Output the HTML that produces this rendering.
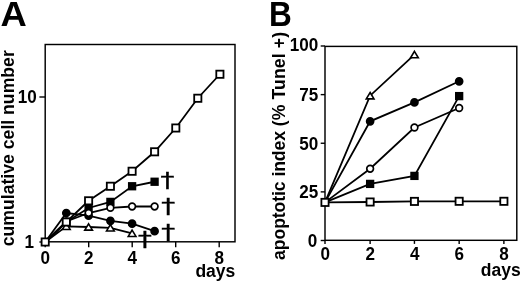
<!DOCTYPE html>
<html lang="en"><head><meta charset="utf-8"><title>Figure</title>
<style>
html,body{margin:0;padding:0;background:#fff;}
body{width:520px;height:281px;overflow:hidden;position:relative;font-family:"Liberation Sans",sans-serif;}
</style></head><body>
<svg width="520" height="281" viewBox="0 0 520 281" style="position:absolute;left:0;top:0">
<g font-family="&quot;Liberation Sans&quot;, sans-serif" font-weight="bold" fill="#000">
<rect x="45.2" y="44.5" width="189.8" height="197.3" fill="none" stroke="#000" stroke-width="1.45"/>
<line x1="45.20" y1="241.8" x2="45.20" y2="247.3" stroke="#000" stroke-width="1.4"/>
<text transform="translate(45.20 263.50) scale(0.96 1)" font-size="17.8" text-anchor="middle">0</text>
<line x1="88.70" y1="241.8" x2="88.70" y2="247.3" stroke="#000" stroke-width="1.4"/>
<text transform="translate(88.70 263.50) scale(0.96 1)" font-size="17.8" text-anchor="middle">2</text>
<line x1="132.20" y1="241.8" x2="132.20" y2="247.3" stroke="#000" stroke-width="1.4"/>
<text transform="translate(132.20 263.50) scale(0.96 1)" font-size="17.8" text-anchor="middle">4</text>
<line x1="175.70" y1="241.8" x2="175.70" y2="247.3" stroke="#000" stroke-width="1.4"/>
<text transform="translate(175.70 263.50) scale(0.96 1)" font-size="17.8" text-anchor="middle">6</text>
<line x1="219.20" y1="241.8" x2="219.20" y2="247.3" stroke="#000" stroke-width="1.4"/>
<text transform="translate(219.20 263.50) scale(0.96 1)" font-size="17.8" text-anchor="middle">8</text>
<line x1="39.4" y1="242" x2="45.2" y2="242" stroke="#000" stroke-width="1.4"/>
<text transform="translate(34.00 248.10) scale(0.96 1)" font-size="17.8" text-anchor="end">1</text>
<line x1="39.4" y1="97" x2="45.2" y2="97" stroke="#000" stroke-width="1.4"/>
<text transform="translate(36.70 103.10) scale(0.96 1)" font-size="17.8" text-anchor="end">10</text>
<text x="0.6" y="26" font-size="34.8" textLength="26.3" lengthAdjust="spacingAndGlyphs">A</text>
<text x="195.4" y="276.6" font-size="17.5">days</text>
<text transform="translate(14.3 246.3) rotate(-90)" font-size="17.65">cumulative cell number</text>
<polyline fill="none" stroke="#000" stroke-width="1.8" points="45.20,242.00 66.30,226.30 88.60,227.00 110.40,227.80 132.10,233.30"/>
<polyline fill="none" stroke="#000" stroke-width="1.8" points="45.20,242.00 66.30,213.00 88.60,215.70 110.40,220.80 132.10,223.70 154.60,231.20"/>
<polyline fill="none" stroke="#000" stroke-width="1.8" points="45.20,242.00 66.30,221.50 88.60,213.00 110.40,207.80 132.10,206.50 154.60,206.50"/>
<polyline fill="none" stroke="#000" stroke-width="1.8" points="45.20,242.00 66.30,222.00 88.60,208.00 110.40,201.90 132.10,186.25 154.60,181.75"/>
<polyline fill="none" stroke="#000" stroke-width="1.8" points="45.20,242.00 66.30,222.00 88.60,200.80 110.40,186.25 132.10,171.25 154.60,151.80 175.80,128.00 197.80,98.25 219.90,74.25"/>
<path d="M66.30 223.10 L70.15 229.45 L62.45 229.45Z" fill="#fff" stroke="#000" stroke-width="1.6" stroke-linejoin="miter"/>
<path d="M88.60 223.80 L92.45 230.15 L84.75 230.15Z" fill="#fff" stroke="#000" stroke-width="1.6" stroke-linejoin="miter"/>
<path d="M110.40 224.60 L114.25 230.95 L106.55 230.95Z" fill="#fff" stroke="#000" stroke-width="1.6" stroke-linejoin="miter"/>
<path d="M132.10 230.10 L135.95 236.45 L128.25 236.45Z" fill="#fff" stroke="#000" stroke-width="1.6" stroke-linejoin="miter"/>
<circle cx="66.30" cy="213.00" r="3.5" fill="#000" stroke="#000" stroke-width="1.7"/>
<circle cx="88.60" cy="215.70" r="3.5" fill="#000" stroke="#000" stroke-width="1.7"/>
<circle cx="110.40" cy="220.80" r="3.5" fill="#000" stroke="#000" stroke-width="1.7"/>
<circle cx="132.10" cy="223.70" r="3.5" fill="#000" stroke="#000" stroke-width="1.7"/>
<circle cx="154.60" cy="231.20" r="3.5" fill="#000" stroke="#000" stroke-width="1.7"/>
<rect x="63.05" y="218.75" width="6.5" height="6.5" fill="#000" stroke="#000" stroke-width="1.8"/>
<rect x="85.35" y="204.75" width="6.5" height="6.5" fill="#000" stroke="#000" stroke-width="1.8"/>
<rect x="107.15" y="198.65" width="6.5" height="6.5" fill="#000" stroke="#000" stroke-width="1.8"/>
<rect x="128.85" y="183.00" width="6.5" height="6.5" fill="#000" stroke="#000" stroke-width="1.8"/>
<rect x="151.35" y="178.50" width="6.5" height="6.5" fill="#000" stroke="#000" stroke-width="1.8"/>
<circle cx="66.30" cy="221.50" r="3.35" fill="#fff" stroke="#000" stroke-width="1.7"/>
<circle cx="88.60" cy="213.00" r="3.35" fill="#fff" stroke="#000" stroke-width="1.7"/>
<circle cx="110.40" cy="207.80" r="3.35" fill="#fff" stroke="#000" stroke-width="1.7"/>
<circle cx="132.10" cy="206.50" r="3.35" fill="#fff" stroke="#000" stroke-width="1.7"/>
<circle cx="154.60" cy="206.50" r="3.35" fill="#fff" stroke="#000" stroke-width="1.7"/>
<rect x="41.60" y="238.40" width="7.2" height="7.2" fill="#fff" stroke="#000" stroke-width="1.8"/>
<rect x="62.70" y="218.40" width="7.2" height="7.2" fill="#fff" stroke="#000" stroke-width="1.8"/>
<rect x="85.00" y="197.20" width="7.2" height="7.2" fill="#fff" stroke="#000" stroke-width="1.8"/>
<rect x="106.80" y="182.65" width="7.2" height="7.2" fill="#fff" stroke="#000" stroke-width="1.8"/>
<rect x="128.50" y="167.65" width="7.2" height="7.2" fill="#fff" stroke="#000" stroke-width="1.8"/>
<rect x="151.00" y="148.20" width="7.2" height="7.2" fill="#fff" stroke="#000" stroke-width="1.8"/>
<rect x="172.20" y="124.40" width="7.2" height="7.2" fill="#fff" stroke="#000" stroke-width="1.8"/>
<rect x="194.20" y="94.65" width="7.2" height="7.2" fill="#fff" stroke="#000" stroke-width="1.8"/>
<rect x="216.30" y="70.65" width="7.2" height="7.2" fill="#fff" stroke="#000" stroke-width="1.8"/>
<text transform="translate(167.4 188.48) scale(1.3 1)" font-family="&quot;DejaVu Sans&quot;, &quot;Liberation Sans&quot;, sans-serif" font-weight="normal" font-size="21.3" stroke="#000" stroke-width="0.35" text-anchor="middle">†</text>
<text transform="translate(168.2 214.18) scale(1.3 1)" font-family="&quot;DejaVu Sans&quot;, &quot;Liberation Sans&quot;, sans-serif" font-weight="normal" font-size="21.3" stroke="#000" stroke-width="0.35" text-anchor="middle">†</text>
<text transform="translate(168.1 239.98) scale(1.3 1)" font-family="&quot;DejaVu Sans&quot;, &quot;Liberation Sans&quot;, sans-serif" font-weight="normal" font-size="21.3" stroke="#000" stroke-width="0.35" text-anchor="middle">†</text>
<text transform="translate(144.9 247.08) scale(1.3 1)" font-family="&quot;DejaVu Sans&quot;, &quot;Liberation Sans&quot;, sans-serif" font-weight="normal" font-size="21.3" stroke="#000" stroke-width="0.35" text-anchor="middle">†</text>
<rect x="325" y="46.4" width="191.8" height="193.9" fill="none" stroke="#000" stroke-width="1.45"/>
<line x1="325.00" y1="240.3" x2="325.00" y2="243.9" stroke="#000" stroke-width="1.4"/>
<text transform="translate(325.20 260.10) scale(0.96 1)" font-size="17.8" text-anchor="middle">0</text>
<line x1="370.12" y1="240.3" x2="370.12" y2="243.9" stroke="#000" stroke-width="1.4"/>
<text transform="translate(370.32 260.10) scale(0.96 1)" font-size="17.8" text-anchor="middle">2</text>
<line x1="414.44" y1="240.3" x2="414.44" y2="243.9" stroke="#000" stroke-width="1.4"/>
<text transform="translate(414.64 260.10) scale(0.96 1)" font-size="17.8" text-anchor="middle">4</text>
<line x1="459.16" y1="240.3" x2="459.16" y2="243.9" stroke="#000" stroke-width="1.4"/>
<text transform="translate(459.36 260.10) scale(0.96 1)" font-size="17.8" text-anchor="middle">6</text>
<line x1="503.88" y1="240.3" x2="503.88" y2="243.9" stroke="#000" stroke-width="1.4"/>
<text transform="translate(504.08 260.10) scale(0.96 1)" font-size="17.8" text-anchor="middle">8</text>
<line x1="320.7" y1="240.50" x2="325" y2="240.50" stroke="#000" stroke-width="1.4"/>
<text transform="translate(317.30 246.80) scale(0.96 1)" font-size="17.8" text-anchor="end">0</text>
<line x1="320.7" y1="191.88" x2="325" y2="191.88" stroke="#000" stroke-width="1.4"/>
<text transform="translate(318.30 198.18) scale(0.96 1)" font-size="17.8" text-anchor="end">25</text>
<line x1="320.7" y1="143.25" x2="325" y2="143.25" stroke="#000" stroke-width="1.4"/>
<text transform="translate(318.30 149.55) scale(0.96 1)" font-size="17.8" text-anchor="end">50</text>
<line x1="320.7" y1="94.62" x2="325" y2="94.62" stroke="#000" stroke-width="1.4"/>
<text transform="translate(318.30 100.92) scale(0.96 1)" font-size="17.8" text-anchor="end">75</text>
<line x1="320.7" y1="46.00" x2="325" y2="46.00" stroke="#000" stroke-width="1.4"/>
<text transform="translate(318.30 51.00) scale(0.96 1)" font-size="17.8" text-anchor="end">100</text>
<text x="269" y="26" font-size="34.8" textLength="22.8" lengthAdjust="spacingAndGlyphs">B</text>
<text x="480.8" y="276.3" font-size="17.5">days</text>
<text transform="translate(285.3 259.9) rotate(-90)" font-size="17.65"><tspan letter-spacing="-0.1">apoptotic index </tspan><tspan letter-spacing="0.1">(% Tunel +)</tspan></text>
<polyline fill="none" stroke="#000" stroke-width="1.8" points="325.00,202.40 370.12,95.70 414.44,54.60"/>
<polyline fill="none" stroke="#000" stroke-width="1.8" points="325.00,202.40 370.12,121.30 414.44,102.40 459.16,81.30"/>
<polyline fill="none" stroke="#000" stroke-width="1.8" points="325.00,202.40 370.12,168.75 414.44,127.50 459.16,108.00"/>
<polyline fill="none" stroke="#000" stroke-width="1.8" points="325.00,202.40 370.12,183.90 414.44,175.90 459.16,96.10"/>
<polyline fill="none" stroke="#000" stroke-width="1.8" points="325.00,202.40 370.12,202.00 414.44,201.40 459.16,201.30 503.88,201.30"/>
<path d="M370.12 92.50 L373.97 98.85 L366.27 98.85Z" fill="#fff" stroke="#000" stroke-width="1.6" stroke-linejoin="miter"/>
<path d="M414.44 51.40 L418.29 57.75 L410.59 57.75Z" fill="#fff" stroke="#000" stroke-width="1.6" stroke-linejoin="miter"/>
<circle cx="370.12" cy="121.30" r="3.5" fill="#000" stroke="#000" stroke-width="1.7"/>
<circle cx="414.44" cy="102.40" r="3.5" fill="#000" stroke="#000" stroke-width="1.7"/>
<circle cx="459.16" cy="81.30" r="3.5" fill="#000" stroke="#000" stroke-width="1.7"/>
<rect x="366.87" y="180.65" width="6.5" height="6.5" fill="#000" stroke="#000" stroke-width="1.8"/>
<rect x="411.19" y="172.65" width="6.5" height="6.5" fill="#000" stroke="#000" stroke-width="1.8"/>
<rect x="455.91" y="92.85" width="6.5" height="6.5" fill="#000" stroke="#000" stroke-width="1.8"/>
<circle cx="370.12" cy="168.75" r="3.35" fill="#fff" stroke="#000" stroke-width="1.7"/>
<circle cx="414.44" cy="127.50" r="3.35" fill="#fff" stroke="#000" stroke-width="1.7"/>
<circle cx="459.16" cy="108.00" r="3.35" fill="#fff" stroke="#000" stroke-width="1.7"/>
<rect x="321.40" y="198.80" width="7.2" height="7.2" fill="#fff" stroke="#000" stroke-width="1.8"/>
<rect x="366.52" y="198.40" width="7.2" height="7.2" fill="#fff" stroke="#000" stroke-width="1.8"/>
<rect x="410.84" y="197.80" width="7.2" height="7.2" fill="#fff" stroke="#000" stroke-width="1.8"/>
<rect x="455.56" y="197.70" width="7.2" height="7.2" fill="#fff" stroke="#000" stroke-width="1.8"/>
<rect x="500.28" y="197.70" width="7.2" height="7.2" fill="#fff" stroke="#000" stroke-width="1.8"/>
</g></svg>
</body></html>
